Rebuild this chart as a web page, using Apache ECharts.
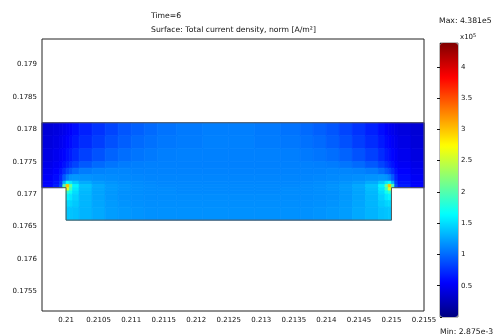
<!DOCTYPE html>
<html>
<head>
<meta charset="utf-8">
<script src="https://cdn.jsdelivr.net/npm/echarts@6/dist/echarts.min.js"></script>
<style>
html, body { margin: 0; padding: 0; background: #fff; }
#main { width: 495px; height: 336px; }
</style>
</head>
<body>
<div id="main"></div>
<script>
// cell edges of the mesh [m]
var xEdges = [0.20963, 0.2098, 0.2099, 0.20995, 0.21, 0.21005, 0.2101, 0.2102, 0.2104, 0.2106, 0.2108,
              0.211, 0.2112, 0.2114, 0.2117, 0.2121, 0.2125, 0.2129, 0.2133, 0.2136, 0.2138, 0.214,
              0.2142, 0.2144, 0.2146, 0.2148, 0.2149, 0.21495, 0.215, 0.21505, 0.2151, 0.2153, 0.2155];
var upperYEdges = [0.1771, 0.17715, 0.1772, 0.1773, 0.1774, 0.1775, 0.1777, 0.1779, 0.1781];
var lowerYEdges = [0.1766, 0.1768, 0.1769, 0.177, 0.17705, 0.1771];
var lowerFirstCol = 4; // lower block runs from x = 0.21 to 0.215

// total current density norm, x1e5 A/m^2, rows from top to bottom
var upperJ = [
  [0.38, 0.41, 0.44, 0.47, 0.50, 0.54, 0.60, 0.68, 0.76, 0.84, 0.91, 0.96, 1.00, 1.04, 1.07, 1.09,
   1.09, 1.07, 1.04, 1.00, 0.96, 0.91, 0.84, 0.76, 0.68, 0.60, 0.54, 0.50, 0.47, 0.44, 0.41, 0.37],
  [0.40, 0.44, 0.48, 0.51, 0.55, 0.59, 0.65, 0.73, 0.81, 0.89, 0.95, 1.00, 1.03, 1.06, 1.08, 1.10,
   1.10, 1.08, 1.06, 1.03, 1.00, 0.95, 0.89, 0.81, 0.73, 0.65, 0.59, 0.55, 0.51, 0.48, 0.44, 0.39],
  [0.43, 0.48, 0.52, 0.56, 0.61, 0.66, 0.73, 0.82, 0.90, 0.97, 1.02, 1.05, 1.07, 1.09, 1.10, 1.10,
   1.10, 1.10, 1.09, 1.07, 1.05, 1.02, 0.97, 0.90, 0.82, 0.73, 0.66, 0.61, 0.56, 0.52, 0.48, 0.42],
  [0.46, 0.51, 0.56, 0.62, 0.69, 0.76, 0.84, 0.93, 1.00, 1.05, 1.08, 1.09, 1.10, 1.10, 1.10, 1.10,
   1.10, 1.10, 1.10, 1.10, 1.09, 1.08, 1.05, 1.00, 0.93, 0.84, 0.76, 0.69, 0.62, 0.56, 0.51, 0.45],
  [0.49, 0.55, 0.63, 0.74, 0.85, 0.93, 1.01, 1.08, 1.11, 1.12, 1.12, 1.11, 1.11, 1.11, 1.11, 1.11,
   1.11, 1.11, 1.11, 1.11, 1.11, 1.12, 1.12, 1.11, 1.08, 1.01, 0.93, 0.85, 0.74, 0.63, 0.55, 0.48],
  [0.52, 0.59, 0.71, 0.93, 1.09, 1.18, 1.20, 1.18, 1.16, 1.15, 1.14, 1.13, 1.12, 1.12, 1.12, 1.12,
   1.12, 1.12, 1.12, 1.12, 1.13, 1.14, 1.15, 1.16, 1.18, 1.20, 1.18, 1.09, 0.93, 0.71, 0.59, 0.51],
  [0.54, 0.62, 0.80, 1.30, 1.65, 1.55, 1.40, 1.28, 1.21, 1.18, 1.16, 1.15, 1.14, 1.13, 1.13, 1.13,
   1.13, 1.13, 1.13, 1.14, 1.15, 1.16, 1.18, 1.21, 1.28, 1.40, 1.55, 1.65, 1.30, 0.80, 0.62, 0.53],
  [0.56, 0.66, 0.88, 2.00, 3.00, 2.10, 1.60, 1.38, 1.27, 1.21, 1.18, 1.16, 1.15, 1.14, 1.14, 1.14,
   1.14, 1.14, 1.14, 1.15, 1.16, 1.18, 1.21, 1.27, 1.38, 1.60, 2.10, 3.00, 2.00, 0.88, 0.66, 0.55]
];
var lowerJ = [
  [2.60, 1.90, 1.55, 1.36, 1.26, 1.21, 1.18, 1.16, 1.15, 1.15, 1.14, 1.14,
   1.14, 1.14, 1.15, 1.15, 1.16, 1.18, 1.21, 1.26, 1.36, 1.55, 1.90, 2.60],
  [1.85, 1.70, 1.50, 1.34, 1.25, 1.20, 1.17, 1.16, 1.15, 1.15, 1.14, 1.14,
   1.14, 1.14, 1.15, 1.15, 1.16, 1.17, 1.20, 1.25, 1.34, 1.50, 1.70, 1.85],
  [1.60, 1.55, 1.45, 1.33, 1.25, 1.20, 1.17, 1.16, 1.15, 1.15, 1.15, 1.15,
   1.15, 1.15, 1.15, 1.15, 1.16, 1.17, 1.20, 1.25, 1.33, 1.45, 1.55, 1.60],
  [1.48, 1.46, 1.41, 1.33, 1.26, 1.21, 1.18, 1.17, 1.16, 1.16, 1.16, 1.16,
   1.16, 1.16, 1.16, 1.16, 1.17, 1.18, 1.21, 1.26, 1.33, 1.41, 1.46, 1.48],
  [1.40, 1.39, 1.37, 1.32, 1.27, 1.22, 1.20, 1.18, 1.17, 1.17, 1.17, 1.17,
   1.17, 1.17, 1.17, 1.17, 1.18, 1.20, 1.22, 1.27, 1.32, 1.37, 1.39, 1.40]
];

// domain boundary
var outlineX = [0.20963, 0.2155, 0.2155, 0.215, 0.215, 0.21, 0.21, 0.20963, 0.20963];
var outlineY = [0.1781, 0.1781, 0.1771, 0.1771, 0.1766, 0.1766, 0.1771, 0.1771, 0.1781];

var jMin = 0, jMax = 4.381;
var jet = ['#000080', '#0000ff', '#0080ff', '#00ffff', '#80ff80', '#ffff00', '#ff8000', '#ff0000', '#800000'];

function buildCells(yEdges, rows, colStart) {
    var out = [];
    var n = rows.length;
    for (var r = 0; r < n; r++) {
        var yi = n - 1 - r;
        for (var c = 0; c < rows[r].length; c++) {
            out.push([xEdges[colStart + c], xEdges[colStart + c + 1], yEdges[yi], yEdges[yi + 1], rows[r][c]]);
        }
    }
    return out;
}
var cells = buildCells(upperYEdges, upperJ, 0).concat(buildCells(lowerYEdges, lowerJ, lowerFirstCol));
var outline = [];
for (var i = 0; i < outlineX.length; i++) outline.push([outlineX[i], outlineY[i]]);

var font = 'DejaVu Sans';
var txt = { fontFamily: font, fontSize: 7.7, fontWeight: 'normal', color: '#111' };

var myChart = echarts.init(document.getElementById('main'));
var option = {
    backgroundColor: '#fff',
    animation: false,
    title: [
        { text: 'Time=6', left: 151, top: 12, padding: 0, textStyle: txt },
        { text: 'Surface: Total current density, norm [A/m²]', left: 151, top: 26, padding: 0, textStyle: txt },
        { text: 'Max: 4.381e5', left: 439, top: 17, padding: 0, textStyle: txt },
        { text: 'x10{s|5}', left: 460, top: 33, padding: 0,
          textStyle: { fontFamily: font, fontSize: 7, fontWeight: 'normal', color: '#111',
                       rich: { s: { fontFamily: font, fontSize: 5, fontWeight: 'normal', color: '#111', verticalAlign: 'top', padding: [0, 0, 4, 0] } } } },
        { text: 'Min: 2.875e-3', left: 440, top: 328, padding: 0, textStyle: txt }
    ],
    grid: [
        { left: 42, top: 39, width: 382, height: 272, show: true, borderColor: '#222', borderWidth: 1, backgroundColor: 'transparent' },
        { left: 440, top: 43, width: 18, height: 274, show: true, borderColor: '#777', borderWidth: 1, backgroundColor: 'transparent' }
    ],
    xAxis: [
        { type: 'value', gridIndex: 0, min: 0.20963, max: 0.2155, splitNumber: 12,
          axisLine: { show: false }, axisTick: { show: false }, splitLine: { show: false },
          axisLabel: { showMinLabel: false, margin: 6, fontFamily: font, fontSize: 7, color: '#111' } },
        { type: 'value', gridIndex: 1, show: false, min: 0, max: 1 }
    ],
    yAxis: [
        { type: 'value', gridIndex: 0, min: 0.1752, max: 0.17939, splitNumber: 8,
          axisLine: { show: false }, axisTick: { show: false }, splitLine: { show: false },
          axisLabel: { showMinLabel: false, showMaxLabel: false, margin: 5, fontFamily: font, fontSize: 7, color: '#111' } },
        { type: 'value', gridIndex: 1, position: 'right', min: jMin, max: jMax, interval: 0.5,
          axisLine: { show: false }, splitLine: { show: false },
          axisTick: { show: true, inside: true, length: 3, lineStyle: { color: '#111' } },
          axisLabel: { showMinLabel: false, showMaxLabel: false, margin: 3, fontFamily: font, fontSize: 7, color: '#111' } },
        { type: 'value', gridIndex: 1, position: 'left', min: jMin, max: jMax, interval: 0.5,
          axisLine: { show: false }, splitLine: { show: false },
          axisTick: { show: true, inside: true, length: 2, lineStyle: { color: '#111' } },
          axisLabel: { show: false } }
    ],
    visualMap: {
        type: 'continuous', min: jMin, max: jMax, dimension: 4, seriesIndex: 0,
        left: 440, top: 43, itemWidth: 18, itemHeight: 274, padding: 0,
        calculable: false, hoverLink: false, text: null, showLabel: false,
        inRange: { color: jet }
    },
    series: [
        {
            type: 'custom',
            xAxisIndex: 0, yAxisIndex: 0,
            data: cells,
            encode: { x: [0, 1], y: [2, 3] },
            renderItem: function (params, api) {
                var p0 = api.coord([api.value(0), api.value(3)]);
                var p1 = api.coord([api.value(1), api.value(2)]);
                var c = api.visual('color');
                return {
                    type: 'rect',
                    shape: { x: p0[0], y: p0[1], width: p1[0] - p0[0], height: p1[1] - p0[1] },
                    style: { fill: c, stroke: c, lineWidth: 0.8 }
                };
            }
        },
        {
            type: 'line',
            xAxisIndex: 0, yAxisIndex: 0,
            data: outline,
            symbol: 'none',
            z: 5,
            lineStyle: { color: '#555', width: 1 }
        }
    ]
};
myChart.setOption(option);
</script>
</body>
</html>
